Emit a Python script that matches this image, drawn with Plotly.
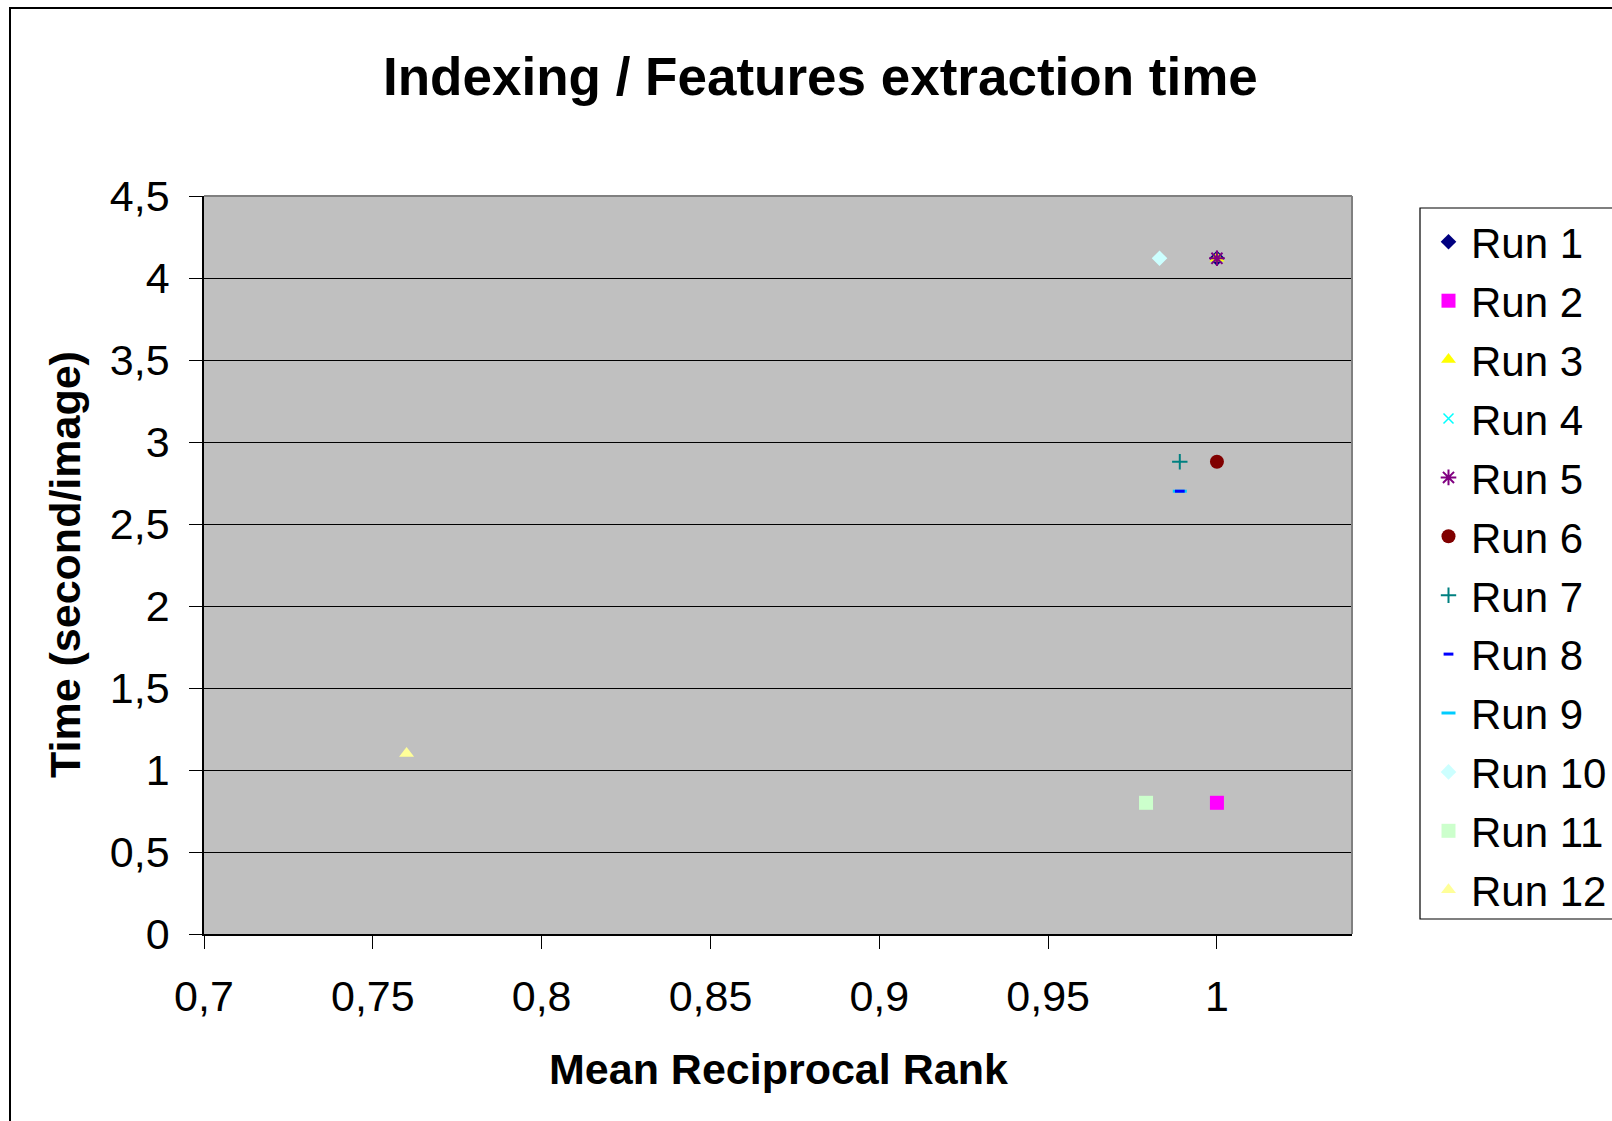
import plotly.graph_objects as go

# Series: mean reciprocal rank (x) vs indexing time in seconds per image (y)
run_names = ["Run 1", "Run 2", "Run 3", "Run 4", "Run 5", "Run 6",
             "Run 7", "Run 8", "Run 9", "Run 10", "Run 11", "Run 12"]
mrr = [[1.0], [1.0], [1.0], [1.0], [1.0], [1.0],
       [0.989], [0.989], [0.989], [0.983], [0.979], [0.76]]
time_per_image = [[4.12], [0.8], [4.12], [4.12], [4.12], [2.88],
                  [2.88], [2.7], [2.7], [4.12], [0.8], [1.1]]

run_colors = ["#000080", "#FF00FF", "#FFFF00", "#00FFFF", "#800080", "#800000",
              "#008080", "#0000FF", "#00CCFF", "#CCFFFF", "#CCFFCC", "#FFFF99"]
run_symbols = ["diamond", "square", "triangle-up", "x-thin-open", "asterisk-open", "circle",
               "cross-thin-open", "line-ew-open", "line-ew-open", "diamond", "square", "triangle-up"]
run_sizes = [12, 14, 13, 10, 13, 14, 11, 7, 10, 12, 14, 13]
run_line_widths = [0, 0, 0, 1.5, 2, 0, 2, 3, 3, 0, 0, 0]

# Run 9 is painted before Run 8 so the shorter dark dash stays on top
draw_order = [0, 1, 2, 3, 4, 5, 6, 8, 7, 9, 10, 11]

FONT = "Liberation Sans, Arial, sans-serif"

fig = go.Figure()
for i in draw_order:
    fig.add_trace(go.Scatter(
        x=mrr[i], y=time_per_image[i], mode="markers", name=run_names[i],
        legendrank=i + 1, legendgroup=run_names[i],
        marker=dict(symbol=run_symbols[i], size=run_sizes[i], color=run_colors[i],
                    line=dict(width=run_line_widths[i], color=run_colors[i])),
    ))

W, H = 1612, 1121
L, R, T, B = 204, 260, 196, 187
PW, PH = W - L - R, H - T - B


def px_x(p):
    return (p - L) / PW


def px_y(p):
    return (H - B - p) / PH


fig.update_layout(
    width=W, height=H,
    margin=dict(l=L, r=R, t=T, b=B, pad=0, autoexpand=False),
    paper_bgcolor="white", plot_bgcolor="#C0C0C0",
    separators=", ",
    font=dict(family=FONT, size=43, color="black"),
    showlegend=True,
    legend=dict(
        x=px_x(1426), y=px_y(208), xanchor="left", yanchor="top",
        bgcolor="rgba(0,0,0,0)", borderwidth=0,
        font=dict(family=FONT, size=42, color="black"),
        traceorder="grouped", tracegroupgap=1.3, itemwidth=35,
    ),
    xaxis=dict(
        range=[0.7, 1.04], tickmode="linear", tick0=0.7, dtick=0.05,
        showgrid=False, zeroline=False,
        showline=True, linecolor="black", linewidth=1.5,
        ticks="outside", ticklen=13, tickcolor="black", tickwidth=1,
        ticklabelstandoff=11,
        tickfont=dict(family=FONT, size=43, color="black"),
    ),
    yaxis=dict(
        range=[0, 4.5], tickmode="linear", tick0=0, dtick=0.5,
        showgrid=True, gridcolor="black", gridwidth=1, zeroline=False,
        showline=True, linecolor="black", linewidth=1.5,
        ticks="outside", ticklen=13, tickcolor="black", tickwidth=1,
        ticklabelstandoff=11,
        tickfont=dict(family=FONT, size=43, color="black"),
    ),
    annotations=[
        dict(text="<b>Indexing / Features extraction time</b>", xref="paper", yref="paper",
             x=px_x(820), y=px_y(76), xanchor="center", yanchor="middle", showarrow=False,
             font=dict(family=FONT, size=53, color="black")),
        dict(text="<b>Mean Reciprocal Rank</b>", xref="paper", yref="paper",
             x=0.5, y=px_y(1069), xanchor="center", yanchor="middle", showarrow=False,
             font=dict(family=FONT, size=43, color="black")),
        dict(text="<b>Time (second/image)</b>", xref="paper", yref="paper",
             x=px_x(65), y=0.5, xanchor="center", yanchor="middle", showarrow=False,
             textangle=-90, font=dict(family=FONT, size=43, color="black")),
    ],
    shapes=[
        # top and right edges of the plot area
        dict(type="line", xref="paper", yref="paper", x0=0, x1=1, y0=1, y1=1,
             line=dict(color="#808080", width=2)),
        dict(type="line", xref="paper", yref="paper", x0=1, x1=1, y0=0, y1=1,
             line=dict(color="#808080", width=2)),
        # legend frame
        dict(type="rect", xref="paper", yref="paper",
             x0=px_x(1420), x1=px_x(1700), y0=px_y(919), y1=px_y(208),
             line=dict(color="black", width=1.2), fillcolor="rgba(0,0,0,0)"),
        # chart area frame
        dict(type="rect", xref="paper", yref="paper",
             x0=px_x(10), x1=px_x(1750), y0=px_y(1250), y1=px_y(8),
             line=dict(color="black", width=2), fillcolor="rgba(0,0,0,0)"),
    ],
)

fig.write_html("out.html")
